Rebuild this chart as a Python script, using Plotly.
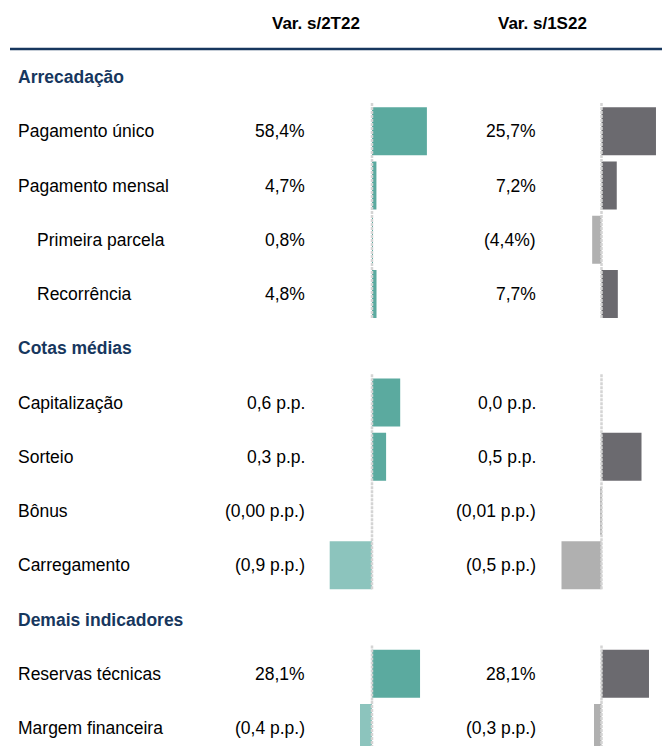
import plotly.graph_objects as go

# ---------------- data ----------------
column_titles = ["Var. s/2T22", "Var. s/1S22"]
sections = ["Arrecadação", "Cotas médias", "Demais indicadores"]
section_rows = [0, 5, 10]
categories = ["Pagamento único", "Pagamento mensal", "Primeira parcela", "Recorrência",
              "Capitalização", "Sorteio", "Bônus", "Carregamento",
              "Reservas técnicas", "Margem financeira"]
category_rows = [1, 2, 3, 4, 6, 7, 8, 9, 11, 12]
indent = [0, 0, 1, 1, 0, 0, 0, 0, 0, 0]
var_2t22 = [58.4, 4.7, 0.8, 4.8, 0.6, 0.3, -0.00, -0.9, 28.1, -0.4]
var_1s22 = [25.7, 7.2, -4.4, 7.7, 0.0, 0.5, -0.01, -0.5, 28.1, -0.3]
labels_2t22 = ["58,4%", "4,7%", "0,8%", "4,8%", "0,6 p.p.", "0,3 p.p.", "(0,00 p.p.)",
               "(0,9 p.p.)", "28,1%", "(0,4 p.p.)"]
labels_1s22 = ["25,7%", "7,2%", "(4,4%)", "7,7%", "0,0 p.p.", "0,5 p.p.", "(0,01 p.p.)",
               "(0,5 p.p.)", "28,1%", "(0,3 p.p.)"]
# rows sharing one bar scale (indices into categories)
bar_groups = [[0, 1, 2, 3], [4, 5, 6, 7], [8], [9]]

# ---------------- styling / layout ----------------
W, H = 662, 746
ROW0_PX, ROW_STEP = 77, 54.25
FONT = "Liberation Sans"
NAVY = "#17375E"
POS = ["#5BAA9F", "#6B6A6F"]
NEG = ["#8CC4BD", "#B0B0B0"]
ZERO_PX = [372, 601.5]
DOMAIN_PX = [(310, 470), (540, 662)]
# pixels per unit for each (group, column)
PPU = [[0.94, 2.12], [47.0, 80.0], [1.71, 1.69], [30.0, 25.0]]
LABEL_X = [307, 538]
TITLE_X = [316, 542]
TEXT_LEFT = 16

series = [var_2t22, var_1s22]
labels = [labels_2t22, labels_1s22]

fig = go.Figure()
layout_axes = {}
shapes = []
k = 0
for g, idxs in enumerate(bar_groups):
    for c in range(2):
        k += 1
        name = "x" if k == 1 else f"x{k}"
        lkey = "xaxis" if k == 1 else f"xaxis{k}"
        l, r = DOMAIN_PX[c]
        z = ZERO_PX[c]
        ppu = PPU[g][c]
        layout_axes[lkey] = dict(domain=[l / W, r / W], range=[(l - z) / ppu, (r - z) / ppu],
                                 visible=False, anchor="y", fixedrange=True)
        vals = [series[c][i] for i in idxs]
        rows = [category_rows[i] for i in idxs]
        fig.add_trace(go.Bar(
            x=vals, y=rows, orientation="h", width=0.885,
            marker=dict(color=[POS[c] if v >= 0 else NEG[c] for v in vals], line=dict(width=0)),
            xaxis=name, yaxis="y", showlegend=False, hoverinfo="skip"))
        top = rows[0] - 0.52 if g != 3 else rows[0] - 0.5
        bot = rows[-1] + 0.5 if g == 2 else rows[-1] + 0.46
        shapes.append(dict(type="line", xref=name, yref="y", x0=0, x1=0, y0=top, y1=bot,
                           line=dict(color="#D4D4D4", width=2.5, dash="3px,1px"), layer="above"))

# header rule
shapes.append(dict(type="line", xref="paper", yref="paper", x0=10 / W, x1=1,
                   y0=1 - 49 / H, y1=1 - 49 / H, line=dict(color=NAVY, width=2.5)))

ann = []
for c in range(2):
    ann.append(dict(text=f"<b>{column_titles[c]}</b>", x=TITLE_X[c] / W, y=1 - 23 / H,
                    xref="paper", yref="paper", xanchor="center", yanchor="middle",
                    showarrow=False, font=dict(family=FONT, size=17, color="#000000")))
for s, rrow in zip(sections, section_rows):
    ann.append(dict(text=f"<b>{s}</b>", x=TEXT_LEFT / W, y=rrow, xref="paper", yref="y",
                    xanchor="left", yanchor="middle", showarrow=False,
                    font=dict(family=FONT, size=17.5, color=NAVY)))
for i, cat in enumerate(categories):
    ann.append(dict(text=cat, x=(TEXT_LEFT + 19 * indent[i]) / W, y=category_rows[i], xref="paper",
                    yref="y", xanchor="left", yanchor="middle", showarrow=False,
                    font=dict(family=FONT, size=17.5, color="#000000")))
    for c in range(2):
        ann.append(dict(text=labels[c][i], x=LABEL_X[c] / W, y=category_rows[i], xref="paper",
                        yref="y", xanchor="right", yanchor="middle", showarrow=False,
                        font=dict(family=FONT, size=17.5, color="#000000")))

fig.update_layout(
    width=W, height=H, margin=dict(l=0, r=0, t=0, b=0),
    paper_bgcolor="white", plot_bgcolor="rgba(0,0,0,0)",
    barmode="overlay",
    yaxis=dict(domain=[0, 1], range=[(H - ROW0_PX) / ROW_STEP, -ROW0_PX / ROW_STEP],
               visible=False, anchor="x", fixedrange=True),
    shapes=shapes, annotations=ann,
    **layout_axes,
)
fig.write_html("out.html", config={"displayModeBar": False},
               post_script="document.body.style.margin='0';document.body.style.overflow='hidden';")
